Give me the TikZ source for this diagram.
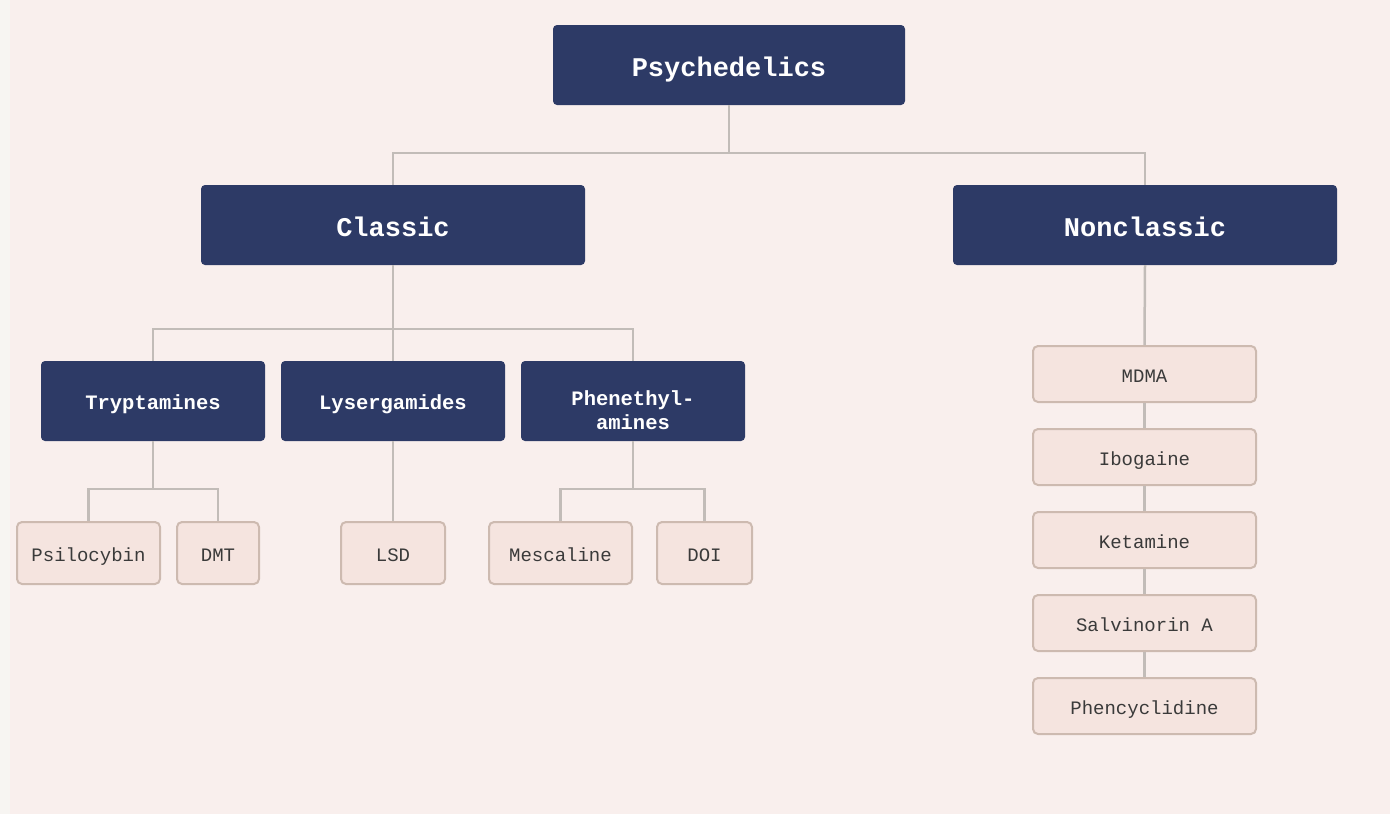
\documentclass[tikz,border=0pt]{standalone}
\usepackage{fontspec}
\newfontfamily\cour{Liberation Mono}
\definecolor{bgpink}{HTML}{F9EFED}
\definecolor{bgstrip}{HTML}{F7F5F2}
\definecolor{navy}{HTML}{2D3A66}
\definecolor{leaffill}{HTML}{F5E4DF}
\definecolor{leafedge}{HTML}{CDBAB0}
\definecolor{conn}{HTML}{C2BCB8}
\definecolor{leaftext}{HTML}{3A3A3A}
\tikzset{
  big/.style={rectangle, rounded corners=4pt, fill=navy, text=white, inner sep=0pt,
    minimum height=80pt, text height=22pt, text depth=0pt,
    font=\cour\bfseries\fontsize{27}{30}\selectfont},
  mid/.style={rectangle, rounded corners=4pt, fill=navy, text=white, inner sep=0pt,
    minimum width=224pt, minimum height=80pt,
    text height=18pt, text depth=0.4pt,
    font=\cour\bfseries\fontsize{20.5}{24}\selectfont},
  leaf/.style={rectangle, rounded corners=5pt, fill=leaffill, draw=leafedge, line width=2pt,
    inner sep=0pt, text=leaftext, text height=17pt, text depth=0.5pt,
    font=\cour\fontsize{19}{22}\selectfont},
  link/.style={draw=conn, line width=2.5pt}
}
\begin{document}
\begin{tikzpicture}[x=1pt,y=-1pt]
\useasboundingbox (0,0) rectangle (1390,814);
\fill[bgstrip] (0,0) rectangle (1390,814);
\fill[bgpink] (10,0) rectangle (1390,814);

\node[big, minimum width=352pt] (psy) at (729,65) {Psychedelics};
\node[big, minimum width=384pt] (cla) at (393,225) {Classic};
\node[big, minimum width=384pt] (non) at (1145,225) {Nonclassic};

\node[mid] (try) at (153,401) {Tryptamines};
\node[mid] (lys) at (393,401) {Lysergamides};
\node[mid, text height=12pt, text depth=4pt] (phe) at (633,401)
  {\begin{tabular}[t]{@{}c@{}}Phenethyl-\\amines\end{tabular}};

\node[leaf, minimum width=143pt, minimum height=62pt] (psi) at (88.5,553) {Psilocybin};
\node[leaf, minimum width=82pt, minimum height=62pt] (dmt) at (218,553) {DMT};
\node[leaf, minimum width=104pt, minimum height=62pt] (lsd) at (393,553) {LSD};
\node[leaf, minimum width=143pt, minimum height=62pt] (mes) at (560.5,553) {Mescaline};
\node[leaf, minimum width=95pt, minimum height=62pt] (doi) at (704.5,553) {DOI};

\node[leaf, minimum width=223pt, minimum height=56pt] (mdma) at (1144.5,374) {MDMA};
\node[leaf, minimum width=223pt, minimum height=56pt] (ibo) at (1144.5,457) {Ibogaine};
\node[leaf, minimum width=223pt, minimum height=56pt] (ket) at (1144.5,540) {Ketamine};
\node[leaf, minimum width=223pt, minimum height=56pt] (sal) at (1144.5,623) {Salvinorin A};
\node[leaf, minimum width=223pt, minimum height=56pt] (pcp) at (1144.5,706) {Phencyclidine};

% connectors
\draw[link] (psy.south) -- ++(0,48) -| (cla.north);
\draw[link] (psy.south) ++(0,48) -| (non.north);
\draw[link] (cla.south) -- ++(0,64) -| (try.north);
\draw[link] (cla.south) -- (lys.north);
\draw[link] (cla.south) ++(0,64) -| (phe.north);
\draw[link] (try.south) -- ++(0,48) -| (psi.north);
\draw[link] (try.south) ++(0,48) -| (dmt.north);
\draw[link] (lys.south) -- (lsd.north);
\draw[link] (phe.south) -- ++(0,48) -| (mes.north);
\draw[link] (phe.south) ++(0,48) -| (doi.north);
\draw[link] (non.south) -- (mdma.north);
\draw[link] (mdma.south) -- (ibo.north);
\draw[link] (ibo.south) -- (ket.north);
\draw[link] (ket.south) -- (sal.north);
\draw[link] (sal.south) -- (pcp.north);
\end{tikzpicture}
\end{document}
